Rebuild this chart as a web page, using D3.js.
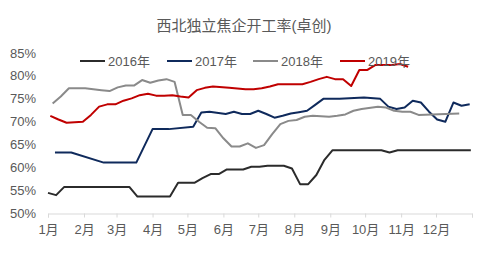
<!DOCTYPE html>
<html><head><meta charset="utf-8">
<script src="https://cdn.jsdelivr.net/npm/d3@7"></script>
<style>
html,body{margin:0;padding:0;background:#fff;}
svg{display:block;font-family:"Liberation Sans","Noto Sans CJK SC",Arial,sans-serif;}
</style></head><body>
<svg id="c" width="488" height="253"></svg>
<script>
// Day-of-year positions (0 = Jan 1) and operating-rate values (%)
const days2016 = [0,7,14,70,77,105,112,126,133,140,147,154,168,175,182,189,203,210,217,224,231,238,245,287,294,301,364];
const vals2016 = [54.5,54.0,55.8,55.8,53.7,53.7,56.7,56.7,57.7,58.6,58.6,59.6,59.6,60.2,60.2,60.4,60.4,59.8,56.4,56.4,58.4,61.7,63.8,63.8,63.3,63.8,63.8];

const days2017 = [6,20,48,76,90,104,125,132,139,153,160,167,174,181,188,195,202,209,216,223,230,237,251,272,286,293,300,307,314,321,328,335,342,349,356,363];
const vals2017 = [63.3,63.3,61.1,61.1,68.4,68.4,68.9,72.0,72.2,71.7,72.2,71.7,71.7,72.4,71.7,70.9,71.3,71.8,72.1,72.4,73.7,75.0,75.0,75.3,75.0,73.3,72.8,73.1,74.6,74.2,72.2,70.5,70.0,74.2,73.5,73.8];

const days2018 = [4,11,18,32,46,53,60,67,74,81,88,95,102,109,116,123,130,137,144,151,158,165,172,179,186,193,200,207,214,221,228,242,249,256,263,270,284,291,298,305,312,319,354];
const vals2018 = [74.0,75.5,77.3,77.3,76.9,76.7,77.5,77.9,77.9,79.1,78.5,79.0,79.3,78.7,71.5,71.5,70.0,68.7,68.6,66.4,64.6,64.6,65.3,64.3,64.9,67.3,69.5,70.2,70.4,71.1,71.3,71.1,71.3,71.6,72.4,72.8,73.3,73.1,72.4,72.2,72.2,71.5,71.8];

const days2019 = [2,9,16,30,37,44,51,58,65,72,79,86,93,100,107,114,121,128,135,142,156,170,177,184,191,198,219,226,233,240,247,254,261,268,275,282,296,303,310];
const vals2019 = [71.3,70.5,69.8,70.0,71.5,73.3,73.8,73.8,74.6,75.1,75.8,76.1,75.7,75.7,75.8,75.5,75.3,76.9,77.4,77.7,77.4,77.1,77.1,77.3,77.7,78.2,78.2,78.7,79.3,79.8,79.3,79.3,77.8,81.3,81.3,82.4,82.4,82.6,82.0];

const seriesNames = ["2016年","2017年","2018年","2019年"];
const seriesColors = ["#2b2b2b","#0f2a5c","#8a8a8a","#c00000"];
const monthStarts = [0,31,59,90,120,151,181,212,243,273,304,334,365];
const monthLabels = ["1月","2月","3月","4月","5月","6月","7月","8月","9月","10月","11月","12月",""];
const yTicks = [50,55,60,65,70,75,80,85];
const title = "西北独立焦企开工率(卓创)";

const series = [
  {name: seriesNames[0], color: seriesColors[0], d: days2016, v: vals2016},
  {name: seriesNames[1], color: seriesColors[1], d: days2017, v: vals2017},
  {name: seriesNames[2], color: seriesColors[2], d: days2018, v: vals2018},
  {name: seriesNames[3], color: seriesColors[3], d: days2019, v: vals2019}
];

const svg = d3.select("#c");
const x = d3.scaleLinear().domain([0,365]).range([48,472]);
const y = d3.scaleLinear().domain([50,85]).range([213.5,53]);

svg.append("text").attr("x",244).attr("y",31).attr("text-anchor","middle")
  .attr("font-size",15).attr("fill","#595959").text(title);

// y labels
svg.append("g").selectAll("text").data(yTicks).join("text")
  .attr("x",36).attr("y",d=>y(d)).attr("dy","0.35em").attr("text-anchor","end")
  .attr("font-size",13).attr("fill","#595959").text(d=>d+"%");

// x axis
const xAxis = d3.axisBottom(x).tickValues(monthStarts).tickSize(4)
  .tickFormat((d,i)=>monthLabels[i]);
const gx = svg.append("g").attr("transform","translate(0,213.5)").call(xAxis);
gx.select(".domain").attr("stroke","#d9d9d9").attr("stroke-width",1);
gx.selectAll(".tick line").attr("stroke","#d9d9d9");
gx.selectAll(".tick text").attr("font-size",13).attr("fill","#595959")
  .attr("font-family","\"Liberation Sans\",\"Noto Sans CJK SC\",sans-serif").attr("dy","1.05em");

const line = d3.line().x(p=>x(p[0])).y(p=>y(p[1]));
series.forEach(s=>{
  const pts = s.d.map((d,i)=>[d, s.v[i]]);
  svg.append("path").attr("d",line(pts)).attr("fill","none")
    .attr("stroke",s.color).attr("stroke-width",2).attr("stroke-linejoin","round");
});

// legend
const legX = [80,167,253,340];
const lg = svg.append("g");
series.forEach((s,i)=>{
  lg.append("line").attr("x1",legX[i]).attr("x2",legX[i]+25).attr("y1",61).attr("y2",61)
    .attr("stroke",s.color).attr("stroke-width",2);
  lg.append("text").attr("x",legX[i]+28).attr("y",61).attr("dy","0.35em")
    .attr("font-size",13).attr("fill","#595959").text(s.name);
});
</script>
</body></html>
